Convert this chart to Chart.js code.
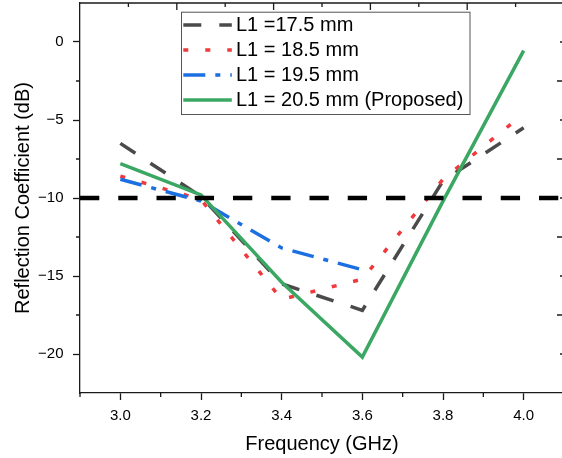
<!DOCTYPE html>
<html>
<head>
<meta charset="utf-8">
<script src="https://cdn.jsdelivr.net/npm/chart.js@4.4.1/dist/chart.umd.min.js"></script>
<style>
  html, body { margin: 0; padding: 0; background: #fff; overflow: hidden; }
  #wrap { position: absolute; left: 0; top: 0; width: 568px; height: 458px; }
</style>
</head>
<body>
<div id="wrap"><canvas id="chart"></canvas></div>
<script>
  // values (dB)
  const frequency = [3.0, 3.2, 3.4, 3.6, 3.8, 4.0];
  const l1_175 = [-6.5, -9.9, -15.5, -17.2, -8.9, -5.5];
  const l1_185 = [-8.6, -10.1, -16.5, -15.2, -8.8, -4.6];
  const l1_195 = [-8.8, -10.2, -13.2, -14.6, null, null];
  const l1_205 = [-7.8, -9.8, -15.4, -20.2, -10.2, -0.55];
  const threshold = -10;

  const seriesLabels = ["L1 =17.5 mm", "L1 = 18.5 mm", "L1 = 19.5 mm", "L1 = 20.5 mm (Proposed)"];

  const xRange = [2.9, 4.1];
  const yRange = [-22.5, 2.5];
  const xMajorTicks = [3.0, 3.2, 3.4, 3.6, 3.8, 4.0];
  const yMajorTicks = [-20, -15, -10, -5, 0];
  const xMinorTicks = [2.9, 3.1, 3.3, 3.5, 3.7, 3.9];
  const yMinorTicks = [-2.5, -7.5, -12.5, -17.5];
  const topTicksShort = [3.02, 3.26, 3.5, 3.74, 3.98];
  const topTicksLong = [3.14, 3.38, 3.62, 3.86];
  const rightTicksShort = [0, -5, -10, -15, -20];
  const rightTicksLong = [-2.5, -7.5, -12.5, -17.5];

  const FONT = '"Liberation Sans", Arial, sans-serif';

  function toPoints(values) {
    return frequency.map((f, i) => ({ x: f, y: values[i] }));
  }

  const frameTicksPlugin = {
    id: "frameTicks",
    afterDraw(chart) {
      const { ctx, chartArea, scales } = chart;
      const { left, right, top, bottom } = chartArea;
      ctx.save();
      ctx.strokeStyle = "#1a1a1a";
      ctx.lineWidth = 1.3;
      ctx.beginPath();
      ctx.moveTo(left, top);
      ctx.lineTo(right, top);
      ctx.lineTo(right, bottom);
      xMinorTicks.forEach((v) => {
        const x = scales.x.getPixelForValue(v);
        ctx.moveTo(x, bottom);
        ctx.lineTo(x, bottom + 4);
      });
      yMinorTicks.forEach((v) => {
        const y = scales.y.getPixelForValue(v);
        ctx.moveTo(left, y);
        ctx.lineTo(left - 4, y);
      });
      topTicksShort.forEach((v) => {
        const x = scales.x.getPixelForValue(v);
        ctx.moveTo(x, top);
        ctx.lineTo(x, top + 4);
      });
      topTicksLong.forEach((v) => {
        const x = scales.x.getPixelForValue(v);
        ctx.moveTo(x, top);
        ctx.lineTo(x, top + 7);
      });
      rightTicksShort.forEach((v) => {
        const y = scales.y.getPixelForValue(v);
        ctx.moveTo(right, y);
        ctx.lineTo(right - 4, y);
      });
      rightTicksLong.forEach((v) => {
        const y = scales.y.getPixelForValue(v);
        ctx.moveTo(right, y);
        ctx.lineTo(right - 7, y);
      });
      ctx.stroke();
      ctx.restore();
    }
  };

  const legendBoxPlugin = {
    id: "legendBox",
    afterDraw(chart, args, opts) {
      const { ctx, chartArea } = chart;
      const x0 = chartArea.left + opts.offsetX;
      const y0 = chartArea.top + opts.offsetY;
      ctx.save();
      ctx.fillStyle = "#ffffff";
      ctx.fillRect(x0, y0, opts.width, opts.height);
      ctx.strokeStyle = "#555555";
      ctx.lineWidth = 1;
      ctx.strokeRect(x0 + 0.5, y0 + 0.5, opts.width, opts.height);

      const items = chart.data.datasets.filter((d) => d.label);
      items.forEach((d, i) => {
        const cy = y0 + opts.firstRow + i * opts.rowHeight;
        ctx.strokeStyle = d.borderColor;
        ctx.lineWidth = d.borderWidth;
        ctx.setLineDash(d.borderDash || []);
        ctx.beginPath();
        ctx.moveTo(x0 + opts.sampleX, cy);
        ctx.lineTo(x0 + opts.sampleX + opts.sampleWidth, cy);
        ctx.stroke();
        ctx.setLineDash([]);
        ctx.fillStyle = "#000000";
        ctx.font = "20px " + FONT;
        ctx.textBaseline = "middle";
        ctx.textAlign = "left";
        ctx.fillText(d.label, x0 + opts.textX, cy);
      });
      ctx.restore();
    }
  };

  new Chart(document.getElementById("chart"), {
    type: "line",
    data: {
      datasets: [
        {
          label: seriesLabels[0],
          data: toPoints(l1_175),
          borderColor: "#4a4a4a",
          borderWidth: 3.5,
          borderDash: [18, 18],
          order: 4
        },
        {
          label: seriesLabels[1],
          data: toPoints(l1_185),
          borderColor: "#f0393d",
          borderWidth: 3.5,
          borderDash: [5, 17],
          order: 3
        },
        {
          label: seriesLabels[2],
          data: toPoints(l1_195),
          borderColor: "#1c6fe0",
          borderWidth: 3.5,
          borderDash: [22, 10, 5, 10],
          order: 2
        },
        {
          label: seriesLabels[3],
          data: toPoints(l1_205),
          borderColor: "#3aa762",
          borderWidth: 3.5,
          order: 1
        },
        {
          data: [{ x: xRange[0], y: threshold }, { x: xRange[1], y: threshold }],
          borderColor: "#000000",
          borderWidth: 4.5,
          borderDash: [19.3, 18.95],
          order: 0
        }
      ]
    },
    options: {
      responsive: true,
      maintainAspectRatio: false,
      animation: false,
      layout: { padding: { left: 0, top: 3, right: 4, bottom: 0 } },
      elements: {
        point: { radius: 0, hoverRadius: 0 },
        line: { tension: 0, fill: false }
      },
      plugins: {
        legend: { display: false },
        tooltip: { enabled: false },
        legendBox: {
          offsetX: 101,
          offsetY: 8.7,
          width: 288.5,
          height: 102.3,
          firstRow: 13.3,
          rowHeight: 25,
          sampleX: 2.3,
          sampleWidth: 48.5,
          textX: 55
        }
      },
      scales: {
        x: {
          type: "linear",
          min: xRange[0],
          max: xRange[1],
          afterBuildTicks(scale) {
            scale.ticks = xMajorTicks.map((v) => ({ value: v }));
          },
          afterFit(scale) {
            scale.height = 65;
            scale.paddingLeft = 0;
            scale.paddingRight = 0;
          },
          ticks: {
            padding: 7,
            color: "#000000",
            font: { family: FONT, size: 15 },
            callback(value) {
              return Number(value).toFixed(1);
            }
          },
          grid: {
            display: true,
            drawOnChartArea: false,
            drawTicks: true,
            tickLength: 7,
            tickWidth: 1.3,
            tickColor: "#1a1a1a"
          },
          border: { display: true, color: "#1a1a1a", width: 1.3 },
          title: {
            display: true,
            text: "Frequency (GHz)",
            color: "#000000",
            font: { family: FONT, size: 20 },
            padding: { top: 0, bottom: 1.3 }
          }
        },
        y: {
          type: "linear",
          min: yRange[0],
          max: yRange[1],
          afterBuildTicks(scale) {
            scale.ticks = yMajorTicks.map((v) => ({ value: v }));
          },
          afterFit(scale) {
            scale.width = 80;
            scale.paddingTop = 0;
            scale.paddingBottom = 0;
          },
          ticks: {
            padding: 9.5,
            color: "#000000",
            font: { family: FONT, size: 15 },
            callback(value) {
              return value < 0 ? "\u2212" + Math.abs(value) : String(value);
            }
          },
          grid: {
            display: true,
            drawOnChartArea: false,
            drawTicks: true,
            tickLength: 7,
            tickWidth: 1.3,
            tickColor: "#1a1a1a"
          },
          border: { display: true, color: "#1a1a1a", width: 1.3 },
          title: {
            display: true,
            text: "Reflection Coefficient (dB)",
            color: "#000000",
            font: { family: FONT, size: 20 },
            padding: { top: 11.5, bottom: 0 }
          }
        }
      }
    },
    plugins: [frameTicksPlugin, legendBoxPlugin]
  });
</script>
</body>
</html>
